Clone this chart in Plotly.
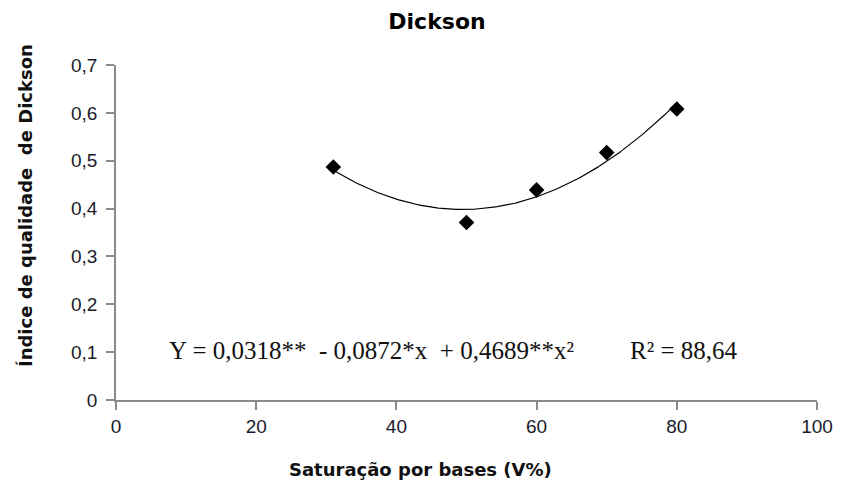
import numpy as np
import plotly.graph_objects as go

# Data
sat_x = [31, 50, 60, 70, 80]
dickson_y = [0.487, 0.371, 0.439, 0.517, 0.608]

x_ticks = [0, 20, 40, 60, 80, 100]
y_ticks = [0, 0.1, 0.2, 0.3, 0.4, 0.5, 0.6, 0.7]
x_tick_text = ["0", "20", "40", "60", "80", "100"]
y_tick_text = ["0", "0,1", "0,2", "0,3", "0,4", "0,5", "0,6", "0,7"]

title_text = "Dickson"
x_title = "Saturação por bases (V%)"
y_title = "Índice de qualidade  de Dickson"
eq_text = "Y = 0,0318**\u00a0\u00a0- 0,0872*x\u00a0\u00a0+ 0,4689**x²"
r2_text = "R² = 88,64"

# Quadratic trendline fitted to the data points
coef = np.polyfit(sat_x, dickson_y, 2)
fit_x = np.linspace(min(sat_x), max(sat_x), 200)
fit_y = np.polyval(coef, fit_x)

fig = go.Figure()
fig.add_trace(go.Scatter(x=fit_x, y=fit_y, mode="lines",
                         line=dict(color="black", width=1.2),
                         hoverinfo="skip", showlegend=False))
fig.add_trace(go.Scatter(x=sat_x, y=dickson_y, mode="markers",
                         marker=dict(symbol="diamond", size=12, color="black"),
                         showlegend=False))

axis_col = "#8a8a8a"
fig.update_layout(
    xaxis=dict(range=[0, 100], tickmode="array", tickvals=x_ticks, ticktext=x_tick_text,
               showgrid=False, zeroline=False,
               showline=True, linecolor=axis_col, linewidth=1.5,
               ticks="outside", ticklen=8, tickwidth=1.5, tickcolor=axis_col,
               tickfont=dict(family="Liberation Sans", size=19, color="#1a1a2a"),
               ticklabelstandoff=0),
    yaxis=dict(range=[0, 0.7], tickmode="array", tickvals=y_ticks, ticktext=y_tick_text,
               showgrid=False, zeroline=False,
               showline=True, linecolor=axis_col, linewidth=1.5,
               ticks="outside", ticklen=8, tickwidth=1.5, tickcolor=axis_col,
               tickfont=dict(family="Liberation Sans", size=19, color="#1a1a2a"),
               ticklabelstandoff=5),
)

fig.update_layout(
    width=845, height=483,
    margin=dict(l=116, r=19, t=65, b=83),
    plot_bgcolor="white", paper_bgcolor="white",
    separators=",.",
    title=dict(text="<b>" + title_text + "</b>", x=437/845, xref="container",
               xanchor="center", y=1 - 21/483, yref="container", yanchor="middle",
               font=dict(family="DejaVu Sans", size=22, color="black")),
    annotations=[
        dict(text="<b>" + x_title + "</b>", x=0.435, y=-0.206, xref="paper", yref="paper",
             xanchor="center", yanchor="middle", showarrow=False,
             font=dict(family="DejaVu Sans", size=18, color="#111")),
        dict(text="<b>" + y_title + "</b>", x=-0.129, y=0.5806, xref="paper", yref="paper",
             xanchor="center", yanchor="middle", showarrow=False, textangle=-90,
             font=dict(family="DejaVu Sans", size=18, color="#111")),
        dict(text=eq_text, x=7.3, y=0.104, xref="x", yref="y",
             xanchor="left", yanchor="middle", showarrow=False,
             font=dict(family="Liberation Serif", size=25, color="#111")),
        dict(text=r2_text, x=73.1, y=0.104, xref="x", yref="y",
             xanchor="left", yanchor="middle", showarrow=False,
             font=dict(family="Liberation Serif", size=25, color="#111")),
    ],
)

fig.write_html("out.html")
